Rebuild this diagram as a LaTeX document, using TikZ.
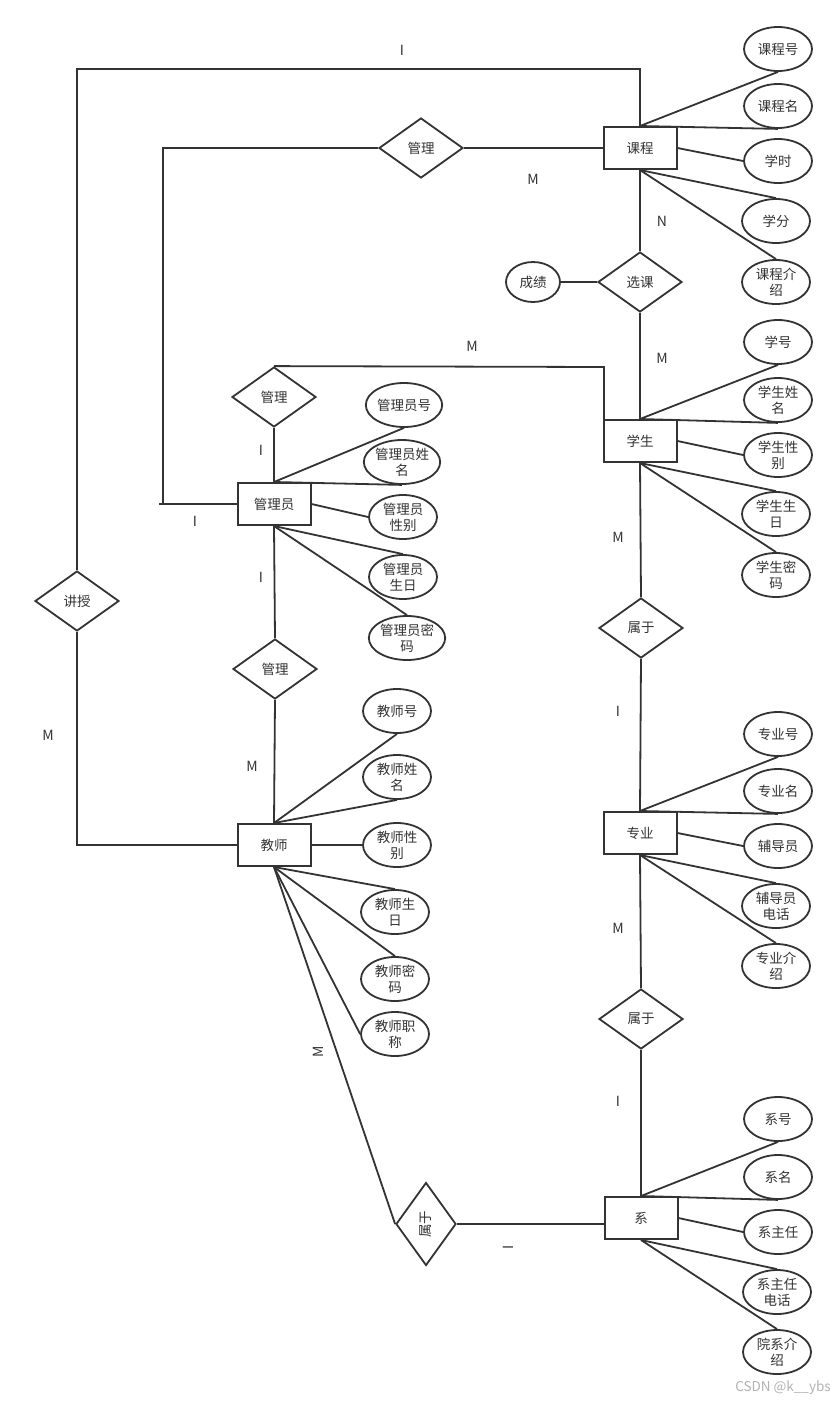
\documentclass[tikz,border=0pt]{standalone}
\usepackage{fontspec}
\newfontfamily\cjk{Noto Sans CJK SC}
\usetikzlibrary{shapes.geometric}
\definecolor{ln}{HTML}{333333}
\begin{document}
\begin{tikzpicture}[x=1pt,y=-1pt,
 every node/.style={font=\cjk\fontsize{13.5}{16}\selectfont, text=ln},
 ent/.style={draw=ln, line width=2pt, minimum width=73pt, minimum height=42pt, inner sep=0pt},
 attr/.style={draw=ln, line width=1.8pt, ellipse, minimum width=68pt, minimum height=44pt, inner sep=0pt, align=center},
 rel/.style={draw=ln, line width=1.8pt, diamond, minimum width=84pt, minimum height=60pt, inner sep=0pt},
 lnk/.style={draw=ln, line width=1.8pt},
 card/.style={font=\cjk\fontsize{14}{16}\selectfont}]
\useasboundingbox[fill=white] (0,0) rectangle (839,1403);

% entities
\node[ent] (kc) at (640,148) {课程};
\node[ent] (xs) at (640,441) {学生};
\node[ent] (gly) at (274,504) {管理员};
\node[ent] (js) at (274,845) {教师};
\node[ent] (zy) at (640,833) {专业};
\node[ent] (xi) at (641,1218) {系};

% relations
\node[rel] (gl1) at (421,148) {管理};
\node[rel] (xk) at (640,282) {选课};
\node[rel] (gl2) at (274,397) {管理};
\node[rel] (gl3) at (275,669) {管理};
\node[rel] (jsh) at (77,601) {讲授};
\node[rel] (sy1) at (641,628) {属于};
\node[rel] (sy2) at (641,1019) {属于};
\node[rel, minimum width=60pt, minimum height=83pt] (sy3) at (426,1224) {\rotatebox{90}{属于}};

% attributes
\node[attr] (k1) at (778,49) {课程号};
\node[attr] (k2) at (778,106) {课程名};
\node[attr] (k3) at (778,161) {学时};
\node[attr] (k4) at (776,221) {学分};
\node[attr] (k5) at (776,282) {课程介\\绍};
\node[attr, minimum width=54pt, minimum height=40pt] (cj) at (533,282) {成绩};

\node[attr] (s1) at (778,342) {学号};
\node[attr] (s2) at (778,400) {学生姓\\名};
\node[attr] (s3) at (778,455) {学生性\\别};
\node[attr] (s4) at (776,514) {学生生\\日};
\node[attr] (s5) at (776,575) {学生密\\码};

\node[attr] (g1) at (404,405) {管理员号};
\node[attr] (g2) at (402,462) {管理员姓\\名};
\node[attr] (g3) at (403,517) {管理员\\性别};
\node[attr] (g4) at (403,577) {管理员\\生日};
\node[attr] (g5) at (407,638) {管理员密\\码};

\node[attr] (t1) at (397,711) {教师号};
\node[attr] (t2) at (397,777) {教师姓\\名};
\node[attr] (t3) at (397,845) {教师性\\别};
\node[attr] (t4) at (395,912) {教师生\\日};
\node[attr] (t5) at (395,979) {教师密\\码};
\node[attr] (t6) at (395,1034) {教师职\\称};

\node[attr] (z1) at (778,734) {专业号};
\node[attr] (z2) at (778,791) {专业名};
\node[attr] (z3) at (778,846) {辅导员};
\node[attr] (z4) at (776,906) {辅导员\\电话};
\node[attr] (z5) at (776,966) {专业介\\绍};

\node[attr] (x1) at (778,1119) {系号};
\node[attr] (x2) at (778,1177) {系名};
\node[attr] (x3) at (778,1232) {系主任};
\node[attr] (x4) at (777,1292) {系主任\\电话};
\node[attr] (x5) at (777,1352) {院系介\\绍};

% attribute links
\foreach \e/\a in {kc/k, xs/s, gly/g, zy/z, xi/x}{
  \draw[lnk] (\e.north) -- (\a1.south);
  \draw[lnk] (\e.north) -- (\a2.south);
  \draw[lnk] (\e.east) -- (\a3.west);
  \draw[lnk] (\e.south) -- (\a4.north);
  \draw[lnk] (\e.south) -- (\a5.north);
}
\draw[lnk] (js.north) -- (t1.south);
\draw[lnk] (js.north) -- (t2.south);
\draw[lnk] (js.east) -- (t3.west);
\draw[lnk] (js.south) -- (t4.north);
\draw[lnk] (js.south) -- (t5.north);
\draw[lnk] (js.south) -- (t6.west);
\draw[lnk] (cj.east) -- (xk.west);

% relationship links
\coordinate (tl) at (77,69);
\coordinate (tr) at (640,69);
\coordinate (c1) at (163,148);
\coordinate (c1b) at (159,504);
\coordinate (c2) at (604,367);
\draw[lnk] (kc.north) -- (tr) -- (tl) -- (jsh.north);
\draw[lnk] (jsh.south) |- (js.west);
\draw[lnk] (kc.west) -- (gl1.east);
\draw[lnk] (gl1.west) -- (c1) -- (c1 |- gly.west) -- (gly.west);
\draw[lnk] (c1b) -- (c1 |- gly.west);
\draw[lnk] (gl2.north) -- (c2) -- (c2 |- xs.north);
\draw[lnk] (gl2.south) -- (gly.north);
\draw[lnk] (gly.south) -- (gl3.north);
\draw[lnk] (gl3.south) -- (js.north);
\draw[lnk] (js.south) -- (sy3.west);
\draw[lnk] (sy3.east) -- (sy3.east -| xi.west);
\draw[lnk] (xi.north) -- (sy2.south);
\draw[lnk] (zy.south) -- (sy2.north);
\draw[lnk] (zy.north) -- (sy1.south);
\draw[lnk] (xs.south) -- (sy1.north);
\draw[lnk] (xk.south) -- (xs.north);
\draw[lnk] (kc.south) -- (xk.north);

% cardinalities
\node[card] (n1) at (402,50) {I};
\node[card] (n2) at (533,179) {M};
\node[card] (n3) at (662,221) {N};
\node[card] (n4) at (662,358) {M};
\node[card] (n5) at (472,346) {M};
\node[card] (n6) at (261,450) {I};
\node[card] (n7) at (195,521) {I};
\node[card] (n8) at (261,577) {I};
\node[card] (n9) at (252,766) {M};
\node[card] (n10) at (48,735) {M};
\node[card] (n11) at (618,537) {M};
\node[card] (n12) at (618,711) {I};
\node[card] (n13) at (618,928) {M};
\node[card] (n14) at (618,1101) {I};
\node[card, rotate=90] (n15) at (318,1052) {M};
\node[card, rotate=90] (n16) at (508,1247) {I};

\node[font=\cjk\fontsize{13.5}{15}\selectfont, text=black!30] (wm) at (783,1388) {CSDN @k\_\_ybs};
\end{tikzpicture}
\end{document}
